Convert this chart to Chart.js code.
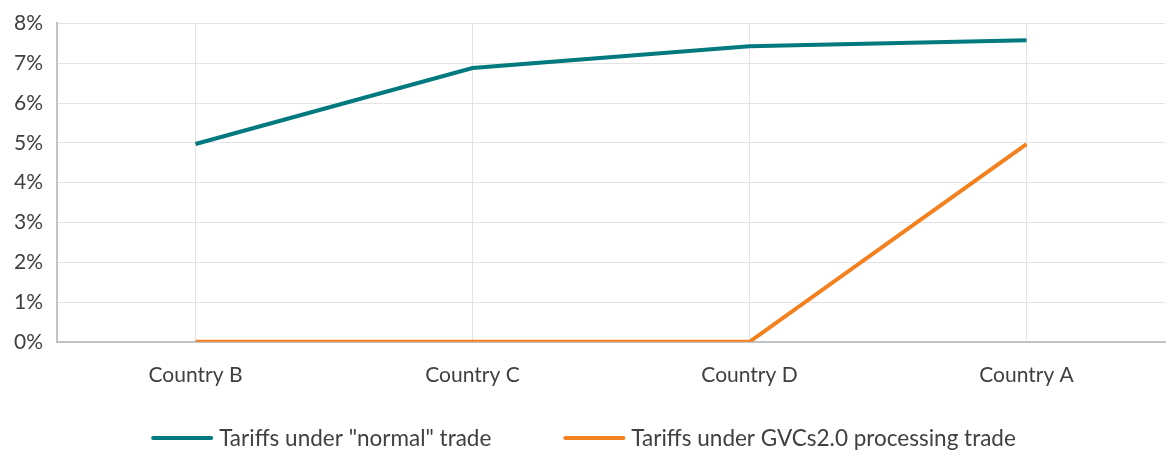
<!DOCTYPE html>
<html>
<head>
<meta charset="utf-8">
<script src="https://cdn.jsdelivr.net/npm/chart.js@4"></script>
<style>
    html, body { margin: 0; padding: 0; background: #fff; }
    #wrap { width: 1167px; height: 450px; position: relative; }
</style>
</head>
<body>
<div id="wrap"><canvas id="tariffChart"></canvas></div>
<script>
    // Data
    const countries = ['Country B', 'Country C', 'Country D', 'Country A'];
    const normalTrade = [4.97, 6.88, 7.43, 7.58];
    const gvcTrade = [0, 0, 0, 4.97];
    const seriesNames = ['Tariffs under "normal" trade', 'Tariffs under GVCs2.0 processing trade'];

    const fontFamily = "Lato, 'Open Sans', sans-serif";
    const textColor = '#404040';

    // Simple line legend drawn under the axis (built-in legend ties
    // horizontal spacing to vertical padding, which doesn't fit here)
    const lineLegend = {
        id: 'lineLegend',
        afterDraw(chart, args, opts) {
            const ctx = chart.ctx;
            ctx.save();
            ctx.font = opts.fontSize + 'px ' + fontFamily;
            ctx.textBaseline = 'middle';
            ctx.fillStyle = textColor;
            const items = chart.data.datasets.map(ds => ({
                text: ds.label,
                color: ds.borderColor,
                width: ctx.measureText(ds.label).width
            }));
            let total = 0;
            items.forEach((it, i) => {
                total += opts.lineLength + opts.textGap + it.width;
                if (i < items.length - 1) total += opts.itemGap;
            });
            let x = (chart.width - total) / 2;
            const y = opts.y;
            items.forEach(it => {
                ctx.strokeStyle = it.color;
                ctx.lineWidth = 4;
                ctx.lineCap = 'round';
                ctx.beginPath();
                ctx.moveTo(x + 2, y);
                ctx.lineTo(x + opts.lineLength - 2, y);
                ctx.stroke();
                x += opts.lineLength + opts.textGap;
                ctx.fillText(it.text, x, y + 1);
                x += it.width + opts.itemGap;
            });
            ctx.restore();
        }
    };

    document.addEventListener('DOMContentLoaded', function() {
        const ctx = document.getElementById('tariffChart');
        new Chart(ctx.getContext('2d'), {
            type: 'line',
            data: {
                labels: countries,
                datasets: [
                    {
                        label: seriesNames[0],
                        data: normalTrade,
                        borderColor: '#00797f',
                        backgroundColor: '#00797f',
                        borderWidth: 4,
                        pointRadius: 0,
                        tension: 0
                    },
                    {
                        label: seriesNames[1],
                        data: gvcTrade,
                        borderColor: '#f48120',
                        backgroundColor: '#f48120',
                        borderWidth: 4,
                        pointRadius: 0,
                        tension: 0
                    }
                ]
            },
            plugins: [lineLegend],
            options: {
                responsive: true,
                maintainAspectRatio: false,
                animation: false,
                layout: {
                    padding: { top: 1, right: 2, left: 0, bottom: 41 }
                },
                plugins: {
                    tooltip: { enabled: false },
                    legend: { display: false },
                    lineLegend: {
                        y: 438,
                        fontSize: 22.5,
                        lineLength: 62,
                        textGap: 6,
                        itemGap: 72
                    }
                },
                scales: {
                    x: {
                        offset: true,
                        grid: {
                            offset: false,
                            color: '#e3e3e3',
                            lineWidth: 1,
                            drawTicks: false
                        },
                        border: { color: '#bfc3c7', width: 2 },
                        ticks: {
                            padding: 21,
                            color: textColor,
                            font: { size: 21, family: fontFamily }
                        }
                    },
                    y: {
                        min: 0,
                        max: 8,
                        ticks: {
                            stepSize: 1,
                            padding: 14,
                            color: textColor,
                            font: { size: 21, family: fontFamily, lineHeight: 0.9 },
                            callback: function(value) {
                                return value + '%';
                            }
                        },
                        grid: {
                            color: '#e3e3e3',
                            lineWidth: 1,
                            drawTicks: false
                        },
                        border: { color: '#bfc3c7', width: 2 }
                    }
                }
            }
        });
    });
</script>
</body>
</html>
